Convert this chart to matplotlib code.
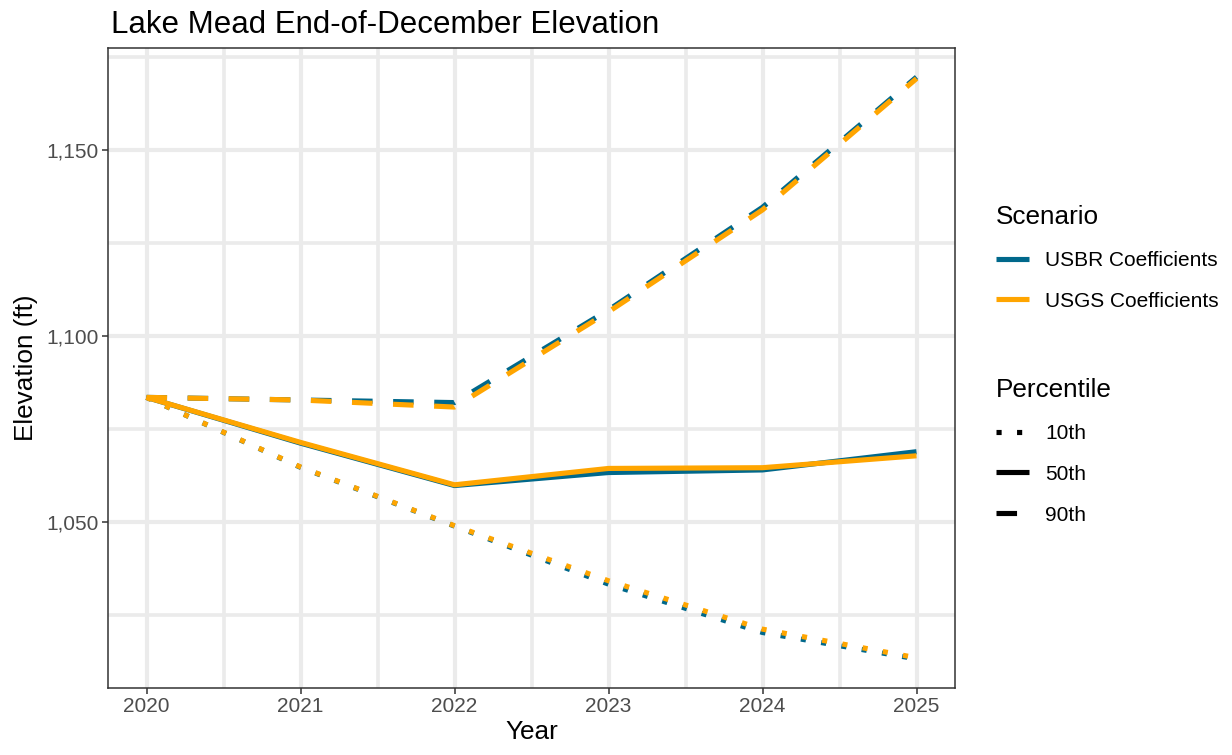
import matplotlib
matplotlib.use("Agg")
import matplotlib.pyplot as plt
from matplotlib.lines import Line2D
from matplotlib.ticker import MultipleLocator, FuncFormatter

plt.rcParams["font.family"] = ["Liberation Sans", "DejaVu Sans"]

# ── data: end-of-December elevation (ft) ─────────────────────
years = [2020, 2021, 2022, 2023, 2024, 2025]

usbr_p10 = [1083.5, 1064.7, 1048.9, 1033.3, 1020.3, 1013.2]
usbr_p50 = [1083.5, 1071.2, 1059.8, 1063.3, 1064.0, 1068.9]
usbr_p90 = [1083.5, 1082.8, 1082.1, 1107.0, 1134.6, 1169.6]

usgs_p10 = [1083.5, 1064.8, 1049.0, 1034.2, 1021.2, 1013.5]
usgs_p50 = [1083.5, 1071.4, 1060.0, 1064.4, 1064.6, 1067.8]
usgs_p90 = [1083.5, 1082.8, 1080.9, 1106.5, 1133.9, 1169.2]

scenarios = ["USBR Coefficients", "USGS Coefficients"]
percentiles = ["10th", "50th", "90th"]

# ── styles ───────────────────────────────────────────────────
TEAL = "#00688B"
ORANGE = "#FFA500"
GRID = "#EBEBEB"
BORDER = "#333333"
TICKTXT = "#4D4D4D"
LW = 3.7
DASHES = {"10th": (1, 3), "50th": None, "90th": (4, 4)}
FS_TITLE, FS_AXIS, FS_TICK = 22.5, 18.8, 15.0

series = {
    ("USBR Coefficients", "10th"): usbr_p10,
    ("USBR Coefficients", "50th"): usbr_p50,
    ("USBR Coefficients", "90th"): usbr_p90,
    ("USGS Coefficients", "10th"): usgs_p10,
    ("USGS Coefficients", "50th"): usgs_p50,
    ("USGS Coefficients", "90th"): usgs_p90,
}
colors = {"USBR Coefficients": TEAL, "USGS Coefficients": ORANGE}

fig = plt.figure(figsize=(12.32, 7.55), dpi=100)
ax = fig.add_axes([108 / 1232, 67 / 755, (955 - 108) / 1232, (688 - 48) / 755])

for sc in scenarios:
    for pc in percentiles:
        line, = ax.plot(years, series[(sc, pc)], color=colors[sc], lw=LW,
                        solid_capstyle="butt", dash_capstyle="butt",
                        solid_joinstyle="round", zorder=3)
        if DASHES[pc]:
            line.set_dashes(DASHES[pc])

# ggplot-like 5% expansion
allv = [v for s in series.values() for v in s]
lo, hi = min(allv), max(allv)
pad = (hi - lo) * 0.05
ax.set_ylim(lo - pad, hi + pad)
ax.set_xlim(years[0] - 0.05 * (years[-1] - years[0]),
            years[-1] + 0.05 * (years[-1] - years[0]))

ax.xaxis.set_major_locator(MultipleLocator(1))
ax.xaxis.set_minor_locator(MultipleLocator(0.5))
ax.yaxis.set_major_locator(MultipleLocator(50))
ax.yaxis.set_minor_locator(MultipleLocator(25))
ax.yaxis.set_major_formatter(FuncFormatter(lambda v, p: f"{v:,.0f}"))
ax.xaxis.set_major_formatter(FuncFormatter(lambda v, p: f"{v:.0f}"))

ax.grid(which="major", color=GRID, lw=3.0, zorder=0)
ax.grid(which="minor", color=GRID, lw=2.6, zorder=0)
ax.set_axisbelow(True)

for sp in ax.spines.values():
    sp.set_color(BORDER)
    sp.set_linewidth(1.1)

ax.tick_params(which="major", length=4, width=1.1, color=BORDER,
               labelsize=FS_TICK, labelcolor=TICKTXT, pad=2.5)
ax.tick_params(which="minor", length=0)

ax.set_xlabel("Year", fontsize=FS_AXIS, labelpad=3)
ax.set_ylabel("Elevation (ft)", fontsize=FS_AXIS, labelpad=6)
ax.set_title("Lake Mead End-of-December Elevation", fontsize=FS_TITLE,
             loc="left", pad=11, x=0.004)

# ── legends ──────────────────────────────────────────────────
sc_handles = [Line2D([], [], color=colors[s], lw=LW, solid_capstyle="butt")
              for s in scenarios]
pc_handles = []
for pc in percentiles:
    h = Line2D([], [], color="black", lw=LW, solid_capstyle="butt",
               dash_capstyle="butt")
    if DASHES[pc]:
        h.set_dashes(DASHES[pc])
    pc_handles.append(h)

leg_kw = dict(loc="upper left", frameon=False, fontsize=FS_TICK,
              title_fontsize=FS_AXIS, alignment="left", handlelength=1.6,
              handletextpad=0.75, labelspacing=1.05, borderpad=0,
              borderaxespad=0, bbox_transform=fig.transFigure)

leg1 = ax.legend(sc_handles, scenarios, title="Scenario",
                 bbox_to_anchor=(996 / 1232, 1 - 205 / 755), **leg_kw)
ax.add_artist(leg1)
ax.legend(pc_handles, percentiles, title="Percentile",
          bbox_to_anchor=(996 / 1232, 1 - 378 / 755), **leg_kw)

fig.savefig("out.png", dpi=100, facecolor="white")
